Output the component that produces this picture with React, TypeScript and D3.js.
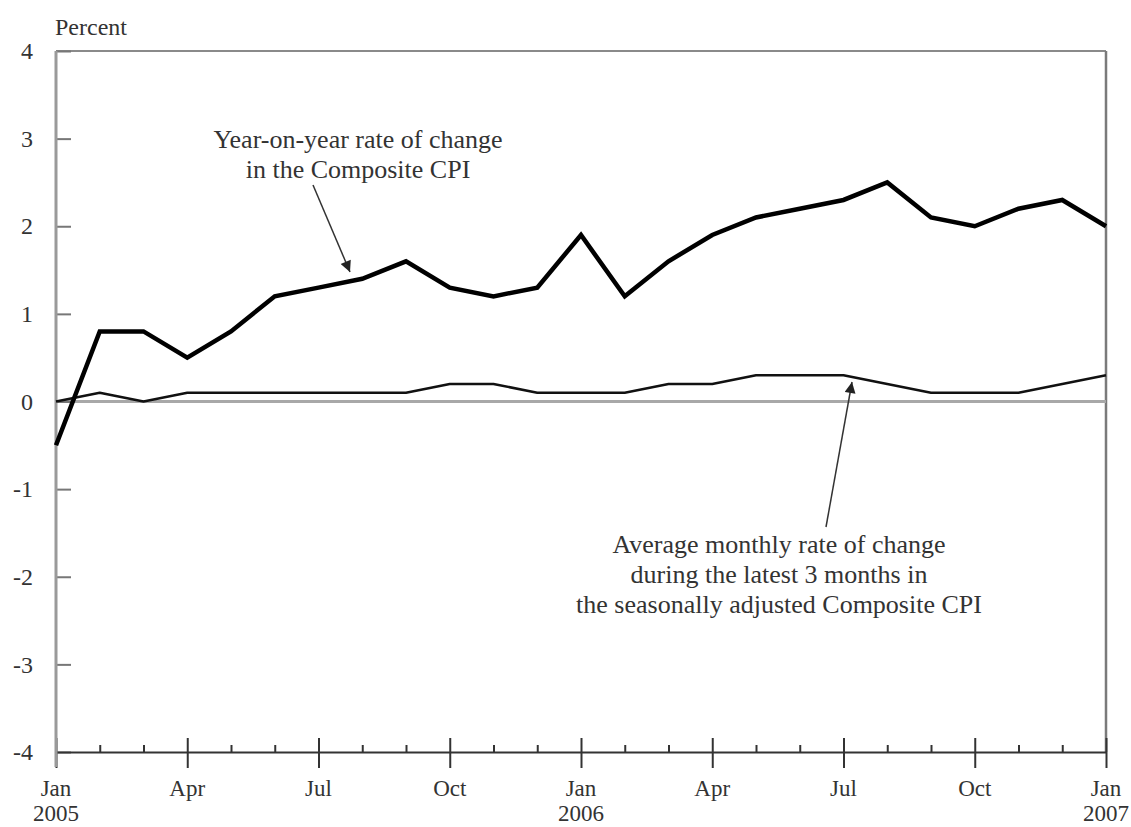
import React, { useRef, useEffect } from "react";
import * as d3 from "d3";

// months from Jan 2005 to Jan 2007
const months = [
  "2005-01", "2005-02", "2005-03", "2005-04", "2005-05", "2005-06", "2005-07",
  "2005-08", "2005-09", "2005-10", "2005-11", "2005-12", "2006-01", "2006-02",
  "2006-03", "2006-04", "2006-05", "2006-06", "2006-07", "2006-08", "2006-09",
  "2006-10", "2006-11", "2006-12", "2007-01",
];

// Year-on-year rate of change in the Composite CPI
const yoyChange = [
  -0.5, 0.8, 0.8, 0.5, 0.8, 1.2, 1.3, 1.4, 1.6, 1.3, 1.2, 1.3, 1.9, 1.2, 1.6,
  1.9, 2.1, 2.2, 2.3, 2.5, 2.1, 2.0, 2.2, 2.3, 2.0,
];

// Average monthly rate of change during the latest 3 months (seasonally adjusted)
const avgMonthlyChange = [
  0.0, 0.1, 0.0, 0.1, 0.1, 0.1, 0.1, 0.1, 0.1, 0.2, 0.2, 0.1, 0.1, 0.1, 0.2,
  0.2, 0.3, 0.3, 0.3, 0.2, 0.1, 0.1, 0.1, 0.2, 0.3,
];

const yTicks = [-4, -3, -2, -1, 0, 1, 2, 3, 4];
const monthNames = ["Jan", "Apr", "Jul", "Oct"];
const quarterMonths = ["01", "04", "07", "10"];

const annotationYoy = ["Year-on-year rate of change", "in the Composite CPI"];
const annotationAvg = [
  "Average monthly rate of change",
  "during the latest 3 months in",
  "the seasonally adjusted Composite CPI",
];

const WIDTH = 1131;
const HEIGHT = 827;
const FONT = "'Liberation Serif', 'Times New Roman', serif";

export default function App() {
  const svgRef = useRef<SVGSVGElement>(null);

  useEffect(() => {
    if (!svgRef.current) return;
    const svg = d3.select(svgRef.current);
    svg.selectAll("*").remove();

    const left = 56;
    const right = 1106;
    const top = 51;
    const bottom = 752;

    const x = d3.scaleLinear().domain([0, months.length - 1]).range([left, right]);
    const y = d3.scaleLinear().domain([-4, 4]).range([bottom, top]);

    // arrow head
    svg
      .append("defs")
      .append("marker")
      .attr("id", "arrow")
      .attr("viewBox", "0 0 10 10")
      .attr("refX", 10)
      .attr("refY", 5)
      .attr("markerWidth", 13)
      .attr("markerHeight", 11)
      .attr("markerUnits", "userSpaceOnUse")
      .attr("orient", "auto")
      .append("path")
      .attr("d", "M0,0 L10,5 L0,10 z")
      .attr("fill", "#222");

    // frame: top and right border
    svg
      .append("line")
      .attr("x1", left)
      .attr("x2", right)
      .attr("y1", top)
      .attr("y2", top)
      .attr("stroke", "#8a8a8a")
      .attr("stroke-width", 2);
    svg
      .append("line")
      .attr("x1", right)
      .attr("x2", right)
      .attr("y1", top)
      .attr("y2", bottom)
      .attr("stroke", "#7a7a7a")
      .attr("stroke-width", 2.5);

    // zero line
    svg
      .append("line")
      .attr("x1", left)
      .attr("x2", right)
      .attr("y1", y(0))
      .attr("y2", y(0))
      .attr("stroke", "#a8a8a8")
      .attr("stroke-width", 3);

    // y axis
    const yAxis = svg
      .append("g")
      .attr("transform", `translate(${left},0)`)
      .call(
        d3
          .axisLeft(y)
          .tickValues(yTicks)
          .tickSize(-15)
          .tickSizeOuter(0)
          .tickPadding(23)
          .tickFormat((d) => `${d}`)
      );
    yAxis.select(".domain").remove();
    yAxis.selectAll(".tick line").attr("stroke", "#777").attr("stroke-width", 2);
    yAxis
      .selectAll(".tick text")
      .attr("font-family", FONT)
      .attr("font-size", 24)
      .attr("fill", "#333");

    // x axis
    const xAxis = svg
      .append("g")
      .attr("transform", `translate(0,${bottom})`)
      .call(
        d3
          .axisBottom(x)
          .tickValues(d3.range(months.length))
          .tickSizeOuter(0)
          .tickFormat(() => "")
      );
    xAxis.select(".domain").attr("stroke", "#333").attr("stroke-width", 2);
    xAxis
      .selectAll<SVGLineElement, number>(".tick line")
      .attr("stroke", "#333")
      .attr("stroke-width", 2)
      .attr("y1", (i) => (quarterMonths.includes(months[i].slice(5)) ? -14 : -7))
      .attr("y2", (i) => (quarterMonths.includes(months[i].slice(5)) ? 16 : 0));

    // left axis line (gray)
    svg
      .append("line")
      .attr("x1", left)
      .attr("x2", left)
      .attr("y1", top)
      .attr("y2", bottom + 15)
      .attr("stroke", "#9a9a9a")
      .attr("stroke-width", 3);

    // month labels
    const quarters = months
      .map((m, i) => ({ m, i }))
      .filter((d) => quarterMonths.includes(d.m.slice(5)));
    const xLabels = svg
      .append("g")
      .attr("font-family", FONT)
      .attr("font-size", 23)
      .attr("fill", "#333")
      .attr("text-anchor", "middle");
    xLabels
      .selectAll("text.month")
      .data(quarters)
      .enter()
      .append("text")
      .attr("class", "month")
      .attr("x", (d) => x(d.i))
      .attr("y", 796)
      .text((d) => monthNames[quarterMonths.indexOf(d.m.slice(5))]);
    xLabels
      .selectAll("text.year")
      .data(quarters.filter((d) => d.m.endsWith("-01")))
      .enter()
      .append("text")
      .attr("class", "year")
      .attr("x", (d) => x(d.i))
      .attr("y", 821)
      .text((d) => d.m.slice(0, 4));

    // "Percent" unit label
    svg
      .append("text")
      .attr("x", left - 1)
      .attr("y", 35)
      .attr("font-family", FONT)
      .attr("font-size", 24)
      .attr("fill", "#333")
      .text("Percent");

    // series lines
    const line = d3
      .line<number>()
      .x((_, i) => x(i))
      .y((d) => y(d));

    svg
      .append("path")
      .datum(avgMonthlyChange)
      .attr("d", line)
      .attr("fill", "none")
      .attr("stroke", "#111")
      .attr("stroke-width", 2.5)
      .attr("stroke-linejoin", "round");

    svg
      .append("path")
      .datum(yoyChange)
      .attr("d", line)
      .attr("fill", "none")
      .attr("stroke", "#000")
      .attr("stroke-width", 4.5)
      .attr("stroke-linejoin", "miter");

    // annotations
    const annot = svg
      .append("g")
      .attr("font-family", FONT)
      .attr("font-size", 26)
      .attr("fill", "#333")
      .attr("text-anchor", "middle");

    annot
      .selectAll("text.yoy")
      .data(annotationYoy)
      .enter()
      .append("text")
      .attr("class", "yoy")
      .attr("x", 358)
      .attr("y", (_, i) => 148 + i * 30)
      .text((d) => d);

    annot
      .selectAll("text.avg")
      .data(annotationAvg)
      .enter()
      .append("text")
      .attr("class", "avg")
      .attr("x", 779)
      .attr("y", (_, i) => 553 + i * 30)
      .text((d) => d);

    svg
      .append("line")
      .attr("x1", 313)
      .attr("y1", 185)
      .attr("x2", 350)
      .attr("y2", 272)
      .attr("stroke", "#333")
      .attr("stroke-width", 1.5)
      .attr("marker-end", "url(#arrow)");

    svg
      .append("line")
      .attr("x1", 826)
      .attr("y1", 527)
      .attr("x2", 852)
      .attr("y2", 382)
      .attr("stroke", "#333")
      .attr("stroke-width", 1.5)
      .attr("marker-end", "url(#arrow)");
  }, []);

  return (
    <svg
      ref={svgRef}
      width={WIDTH}
      height={HEIGHT}
      style={{ position: "absolute", left: 0, top: 0, background: "#fff" }}
    />
  );
}
